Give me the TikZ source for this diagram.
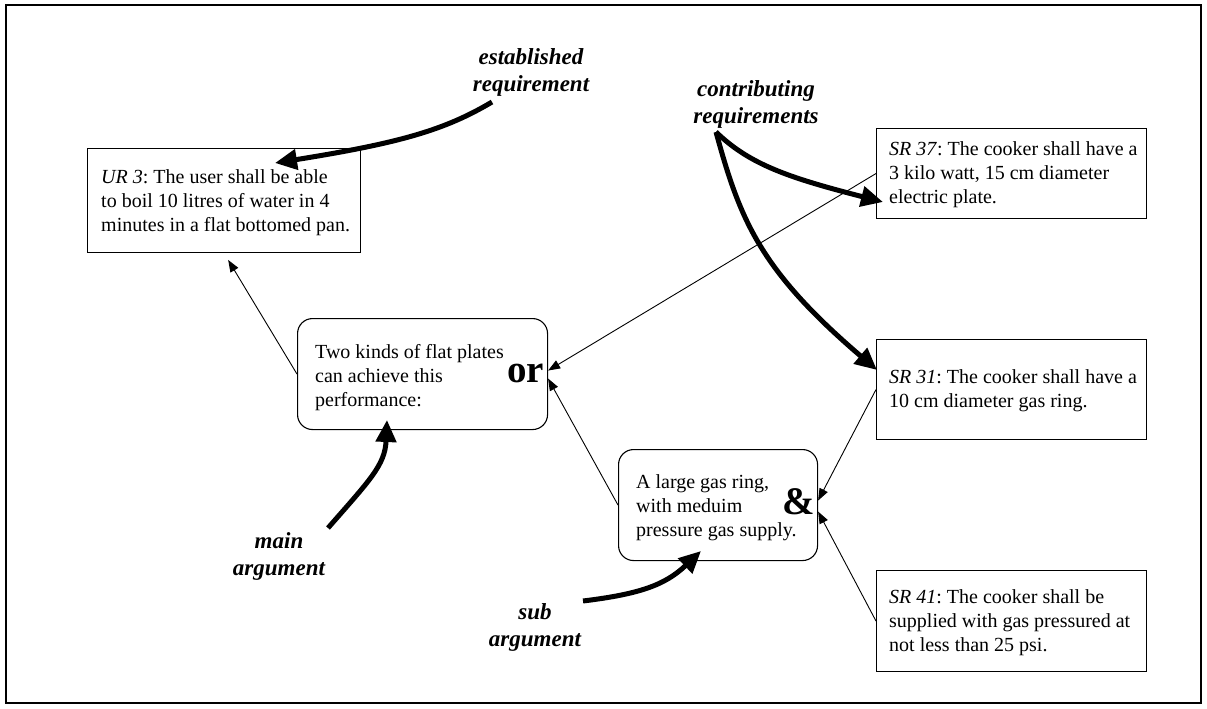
\documentclass[tikz,border=0pt]{standalone}
\usepackage{fontspec}
\setmainfont{Liberation Serif}
\usetikzlibrary{arrows.meta}
\frenchspacing
\begin{document}
\begin{tikzpicture}[x=1pt,y=-1pt,
  reqbox/.style={draw, line width=1.1pt, rectangle, inner sep=0pt, anchor=north west},
  argbox/.style={reqbox, rounded corners=15pt},
  body/.style={inner sep=0pt, anchor=base west, font=\fontsize{20}{24}\selectfont\frenchspacing},
  lbl/.style={inner sep=0pt, anchor=base, font=\fontsize{23}{27}\selectfont\bfseries\itshape},
  logic/.style={inner sep=0pt, anchor=base west, font=\fontsize{39}{42}\selectfont\bfseries},
  link/.style={line width=0.9pt, -{Triangle[length=12pt,width=9pt]}},
  pointer/.style={line width=5pt, -{Triangle[length=22pt,width=20pt]}}]
\useasboundingbox (0,0) rectangle (1207,709);
\draw[line width=2.8pt] (6,5) rectangle (1201,703);

% boxes
\node[reqbox, minimum width=273pt, minimum height=104pt] (ur3) at (87,148) {};
\node[argbox, minimum width=250pt, minimum height=111pt] (two) at (297,318) {};
\node[argbox, minimum width=199pt, minimum height=111pt] (small) at (618,449) {};
\node[reqbox, minimum width=270pt, minimum height=90pt] (sr37) at (876,128) {};
\node[reqbox, minimum width=270pt, minimum height=100pt] (sr31) at (876,339) {};
\node[reqbox, minimum width=270pt, minimum height=101pt] (sr41) at (876,570) {};

% texts
\node[body] (ur3t) at (101,183) {\begin{tabular}[t]{@{}l@{}}\textit{UR 3}: The user shall be able\\to boil 10 litres of water in 4\\minutes in a flat bottomed pan.\end{tabular}};
\node[body] (twot) at (315,358) {\begin{tabular}[t]{@{}l@{}}Two kinds of flat plates\\can achieve this\\performance:\end{tabular}};
\node[body] (smallt) at (636,488) {\begin{tabular}[t]{@{}l@{}}A large gas ring,\\with meduim\\pressure gas supply.\end{tabular}};
\node[body] (sr37t) at (889,155) {\begin{tabular}[t]{@{}l@{}}\textit{SR 37}: The cooker shall have a\\3 kilo watt, 15 cm diameter\\electric plate.\end{tabular}};
\node[body] (sr31t) at (889,383) {\begin{tabular}[t]{@{}l@{}}\textit{SR 31}: The cooker shall have a\\10 cm diameter gas ring.\end{tabular}};
\node[body] (sr41t) at (889,603) {\begin{tabular}[t]{@{}l@{}}\textit{SR 41}: The cooker shall be\\supplied with gas pressured at\\not less than 25 psi.\end{tabular}};
\node[logic] (or) at (507,382) {or};
\node[logic] (and) at (782,514) {\&};

% labels
\node[lbl] (est) at (531,65) {\begin{tabular}[t]{@{}c@{}}established\\requirement\end{tabular}};
\node[lbl] (contr) at (756,96) {\begin{tabular}[t]{@{}c@{}}contributing\\requirements\end{tabular}};
\node[lbl] (mainl) at (279,548) {\begin{tabular}[t]{@{}c@{}}main\\argument\end{tabular}};
\node[lbl] (subl) at (535,619) {\begin{tabular}[t]{@{}c@{}}sub\\argument\end{tabular}};

% thin links
\draw[link, shorten >=8pt] (two.west) -- (ur3.south);
\draw[link] (sr37.west) -- ([yshift=3.5pt]two.east);
\draw[link] (small.west) -- ([yshift=-4.5pt]two.east);
\draw[link] (sr31.west) -- ([yshift=4.5pt]small.east);
\draw[link] (sr41.west) -- ([yshift=-6.5pt]small.east);

% pointer arrows
\coordinate (estFrom) at (492,102);
\coordinate (estTo) at (275,163);
\coordinate (conFrom) at (716,132);
\coordinate (conTo37) at (883,202);
\coordinate (conTo31) at (877,370);
\coordinate (mainFrom) at (328,528);
\coordinate (mainTo) at (387,420);
\coordinate (subFrom) at (583,601);
\coordinate (subTo) at (701,551);
\draw[pointer] (estFrom) .. controls (445,130) and (400,143) .. (estTo);
\draw[pointer] (conFrom) .. controls (750,165) and (790,178) .. (conTo37);
\draw[pointer] (conFrom) .. controls (740,220) and (760,270) .. (conTo31);
\draw[pointer] (mainFrom) .. controls (370,480) and (385,465) .. (mainTo);
\draw[pointer] (subFrom) .. controls (640,594) and (665,585) .. (subTo);
\end{tikzpicture}
\end{document}
